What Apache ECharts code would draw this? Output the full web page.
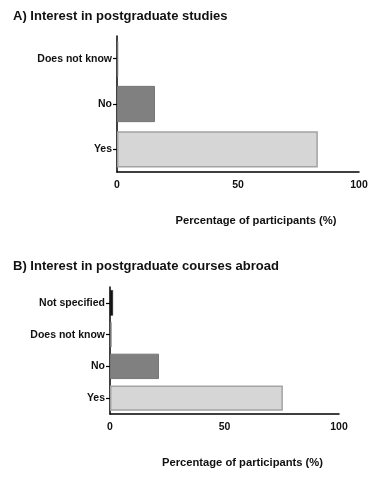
<!DOCTYPE html>
<html>
<head>
<meta charset="utf-8">
<script src="https://cdn.jsdelivr.net/npm/echarts@6/dist/echarts.min.js"></script>
<style>
  html, body { margin: 0; padding: 0; background: #fff; }
  #chart { width: 378px; height: 477px; }
</style>
</head>
<body>
<div id="chart"></div>
<script>
// data, listed bottom to top
var catsA = ['Yes', 'No', 'Does not know'];
var valsA = [83, 15.7, 0.5];
var catsB = ['Yes', 'No', 'Does not know', 'Not specified'];
var valsB = [75.5, 21.4, 0.7, 1.3];
var xTicks = [0, 50, 100];

var chart = echarts.init(document.getElementById('chart'));

var font = 'Liberation Sans, Arial, sans-serif';
// colours per category
var styleFor = {
    'Yes': { color: '#d6d6d6', borderColor: '#a3a3a3', borderWidth: 1.5 },
    'No': { color: '#808080', borderColor: '#777777', borderWidth: 1 },
    'Does not know': { color: '#c8c8c8', borderColor: '#707070', borderWidth: 0.8 },
    'Not specified': { color: '#111111', borderColor: '#111111', borderWidth: 0.5 }
};

function makeData(cats, vals) {
    return vals.map(function (v, i) {
        return { value: v, itemStyle: styleFor[cats[i]] };
    });
}

function xAxisFor(gridIndex, pad) {
    return {
        type: 'value', gridIndex: gridIndex, min: 0, max: 100, interval: 50,
        axisLine: { show: true, lineStyle: { color: '#000', width: 1.5 } },
        axisTick: { show: false },
        splitLine: { show: false },
        axisLabel: {
            color: '#111', fontFamily: font, fontWeight: 'bold', fontSize: 10.5, margin: 8,
            formatter: function (v) { return xTicks.indexOf(v) >= 0 ? String(v) : ''; }
        },
        name: 'Percentage of participants (%)',
        nameLocation: 'middle',
        nameGap: 43,
        nameTextStyle: { color: '#111', fontFamily: font, fontWeight: 'bold', fontSize: 11.2, padding: [0, 0, 0, pad] }
    };
}

function yAxisFor(gridIndex, cats) {
    return {
        type: 'category', gridIndex: gridIndex, data: cats,
        axisLine: { show: true, lineStyle: { color: '#000', width: 1.5 } },
        axisTick: { show: true, alignWithLabel: true, length: 4, lineStyle: { color: '#000', width: 1.2 } },
        axisLabel: { color: '#111', fontFamily: font, fontWeight: 'bold', fontSize: 10.5, margin: 5 }
    };
}

var option = {
    animation: false,
    backgroundColor: '#fff',
    title: [
        { text: 'A) Interest in postgraduate studies', left: 8, top: 5,
          textStyle: { fontFamily: font, fontWeight: 'bold', fontSize: 13, color: '#111' } },
        { text: 'B) Interest in postgraduate courses abroad', left: 8, top: 255,
          textStyle: { fontFamily: font, fontWeight: 'bold', fontSize: 13, color: '#111' } }
    ],
    grid: [
        { left: 117, top: 36, width: 242, height: 136 },
        { left: 110, top: 287, width: 229, height: 127 }
    ],
    xAxis: [xAxisFor(0, 36), xAxisFor(1, 36)],
    yAxis: [yAxisFor(0, catsA), yAxisFor(1, catsB)],
    series: [
        { type: 'bar', xAxisIndex: 0, yAxisIndex: 0, barCategoryGap: '20%', data: makeData(catsA, valsA) },
        { type: 'bar', xAxisIndex: 1, yAxisIndex: 1, barCategoryGap: '20%', data: makeData(catsB, valsB) }
    ]
};

chart.setOption(option);
</script>
</body>
</html>
